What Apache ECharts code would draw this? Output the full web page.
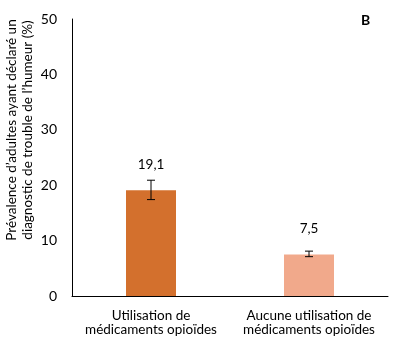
<!DOCTYPE html>
<html>
<head>
<meta charset="utf-8">
<script src="https://cdn.jsdelivr.net/npm/echarts@6/dist/echarts.min.js"></script>
<style>
  html, body { margin: 0; padding: 0; background: #fff; }
  #chart { width: 393px; height: 346px; }
</style>
</head>
<body>
<div id="chart"></div>
<script>
// Prévalence par groupe d'utilisation de médicaments opioïdes
const categories = ['Utilisation de\nmédicaments opioïdes', 'Aucune utilisation de\nmédicaments opioïdes'];
const values = [19.1, 7.5];
const errLow = [17.4, 7.1];
const errHigh = [20.9, 8.1];
const barColors = ['#D3702D', '#F1A98B'];
const yTitle = 'Prévalence d\u2019adultes ayant déclaré un\ndiagnostic de trouble de l\u2019humeur (%)';

const FONT = 'Lato, "Open Sans", sans-serif';
const chart = echarts.init(document.getElementById('chart'), null, { renderer: 'canvas' });

chart.setOption({
  animation: false,
  grid: { left: 72, right: 5, top: 19, bottom: 50, containLabel: false, outerBoundsMode: 'none' },
  xAxis: {
    type: 'category',
    data: categories,
    axisLine: { lineStyle: { color: '#000', width: 1 } },
    axisTick: { show: false },
    axisLabel: { interval: 0, color: '#000', fontFamily: FONT, fontSize: 13.5, lineHeight: 14, margin: 13 }
  },
  yAxis: {
    type: 'value',
    min: 0, max: 50, interval: 10,
    axisLine: { show: true, lineStyle: { color: '#000', width: 1 } },
    axisTick: { show: false },
    splitLine: { show: false },
    axisLabel: { color: '#000', fontFamily: FONT, fontSize: 14, margin: 15 }
  },
  series: [
    {
      type: 'bar',
      data: values.map((v, i) => ({ value: v, itemStyle: { color: barColors[i] } })),
      barWidth: 50,
      label: {
        show: true,
        position: 'top',
        distance: 19,
        formatter: p => String(p.value).replace('.', ','),
        color: '#000', fontFamily: FONT, fontSize: 13.5
      }
    },
    {
      type: 'custom',
      data: errLow.map((lo, i) => [i, lo, errHigh[i]]),
      z: 5,
      renderItem: function (params, api) {
        const lo = api.coord([api.value(0), api.value(1)]);
        const hi = api.coord([api.value(0), api.value(2)]);
        const w = 4;
        const st = { stroke: '#000', lineWidth: 1 };
        return {
          type: 'group',
          children: [
            { type: 'line', shape: { x1: lo[0], y1: lo[1], x2: hi[0], y2: hi[1] }, style: st },
            { type: 'line', shape: { x1: lo[0] - w, y1: lo[1], x2: lo[0] + w, y2: lo[1] }, style: st },
            { type: 'line', shape: { x1: hi[0] - w, y1: hi[1], x2: hi[0] + w, y2: hi[1] }, style: st }
          ]
        };
      }
    }
  ],
  graphic: [
    {
      type: 'text', x: 20, y: 130, rotation: Math.PI / 2,
      style: {
        text: yTitle, fontFamily: FONT, fontSize: 13.5, lineHeight: 16,
        align: 'center', verticalAlign: 'middle', fill: '#000'
      }
    },
    {
      type: 'text', left: 361, top: 13,
      style: { text: 'B', fontFamily: FONT, fontSize: 14, fontWeight: 'bold', fill: '#000' }
    }
  ]
});
</script>
</body>
</html>
